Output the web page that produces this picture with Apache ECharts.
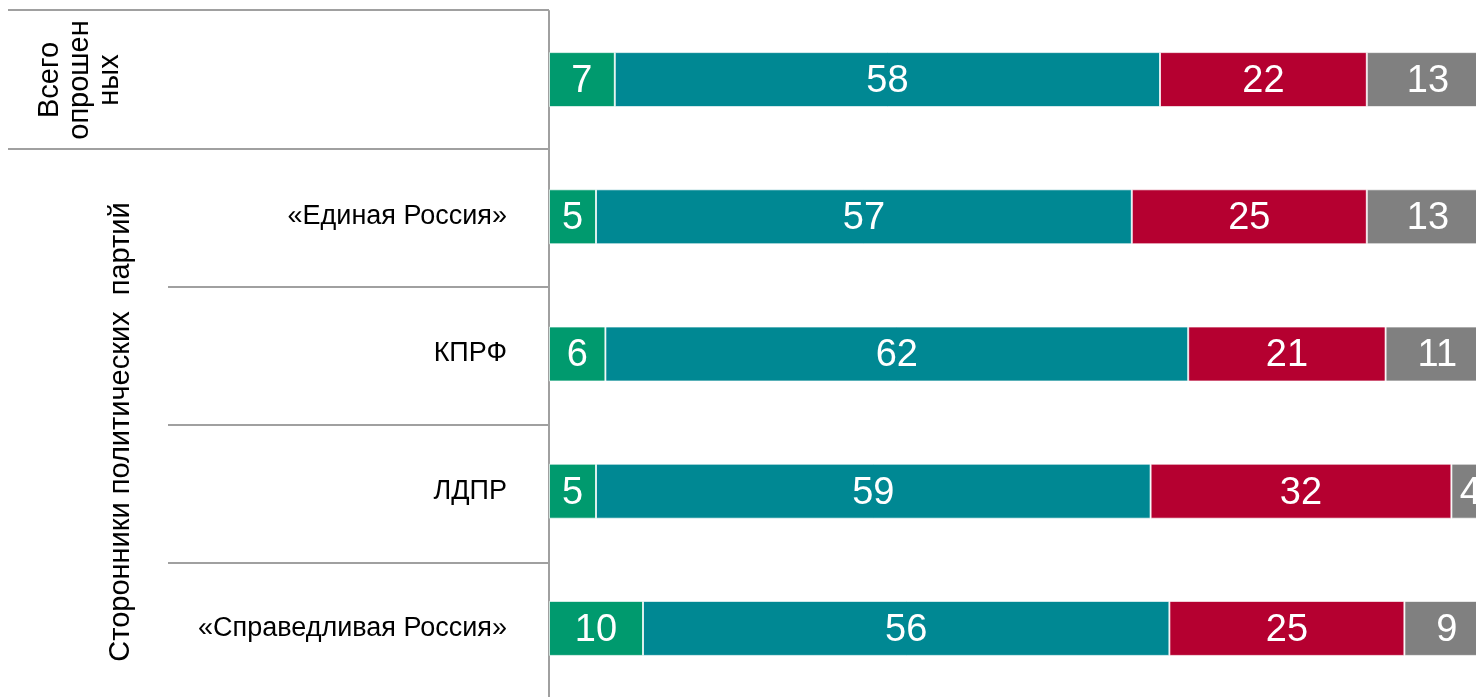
<!DOCTYPE html>
<html>
<head>
<meta charset="utf-8">
<script src="https://cdn.jsdelivr.net/npm/echarts@6/dist/echarts.min.js"></script>
<style>
  html, body { margin: 0; padding: 0; background: #fff; overflow: hidden; }
  /* the original chart is cut at the right edge, so the canvas is a bit wider than the window */
  #chart { width: 1489px; height: 697px; }
</style>
</head>
<body>
<div id="chart"></div>
<script>
var categories = ["Всего опрошенных", "«Единая Россия»", "КПРФ", "ЛДПР", "«Справедливая Россия»"];
var seriesNames = ["Вариант 1", "Вариант 2", "Вариант 3", "Вариант 4"];
var greenValues = [7, 5, 6, 5, 10];
var tealValues = [58, 57, 62, 59, 56];
var redValues = [22, 25, 21, 32, 25];
var grayValues = [13, 13, 11, 4, 9];
var colors = ["#009a6e", "#008893", "#b50030", "#808080"];

var myChart = echarts.init(document.getElementById("chart"));

// grid geometry (used for the separator lines of the label table)
var gridTop = 11, gridLeft = 549, bandH = 138;
var lineColor = "#a0a0a0";

function hLine(x1, y, x2) {
  return {
    type: "line",
    shape: { x1: x1, y1: y, x2: x2, y2: y },
    style: { stroke: lineColor, lineWidth: 2 },
    z: 10
  };
}

var allValues = [greenValues, tealValues, redValues, grayValues];
var series = allValues.map(function (vals, i) {
  return {
    name: seriesNames[i],
    type: "bar",
    stack: "total",
    barWidth: 55,
    data: vals,
    itemStyle: {
      color: colors[i],
      borderColor: "rgba(255,255,255,0.7)",
      borderWidth: 1
    },
    label: {
      show: true,
      position: "inside",
      color: "#fff",
      fontSize: 38,
      offset: [0, 2],
      fontFamily: "Liberation Sans"
    }
  };
});

var option = {
  animation: false,
  grid: { left: gridLeft, right: 0, top: gridTop, height: bandH * 5, containLabel: false },
  xAxis: { type: "value", min: 0, max: 100, show: false },
  yAxis: {
    type: "category",
    inverse: true,
    data: categories,
    axisLine: { show: true, lineStyle: { color: lineColor, width: 2 } },
    axisTick: { show: false },
    splitLine: { show: false },
    axisLabel: {
      margin: 42,
      fontSize: 27,
      color: "#000",
      fontFamily: "Liberation Sans",
      formatter: function (v, idx) {
        return idx === 0 ? "" : v;
      }
    }
  },
  graphic: [
    hLine(8, gridTop - 1, gridLeft),
    hLine(8, gridTop + bandH, gridLeft),
    hLine(168, gridTop + bandH * 2, gridLeft),
    hLine(168, gridTop + bandH * 3, gridLeft),
    hLine(168, gridTop + bandH * 4, gridLeft),
    {
      type: "text",
      x: 80,
      y: gridTop + bandH / 2,
      rotation: Math.PI / 2,
      style: {
        text: "Всего\nопрошен\nных",
        font: "29px 'Liberation Sans'",
        fill: "#000",
        align: "center",
        verticalAlign: "middle",
        lineHeight: 30
      }
    },
    {
      type: "text",
      x: 121,
      y: 432,
      rotation: Math.PI / 2,
      style: {
        text: "Сторонники политических  партий",
        font: "29px 'Liberation Sans'",
        fill: "#000",
        align: "center",
        verticalAlign: "middle"
      }
    }
  ],
  series: series
};

myChart.setOption(option);
</script>
</body>
</html>
